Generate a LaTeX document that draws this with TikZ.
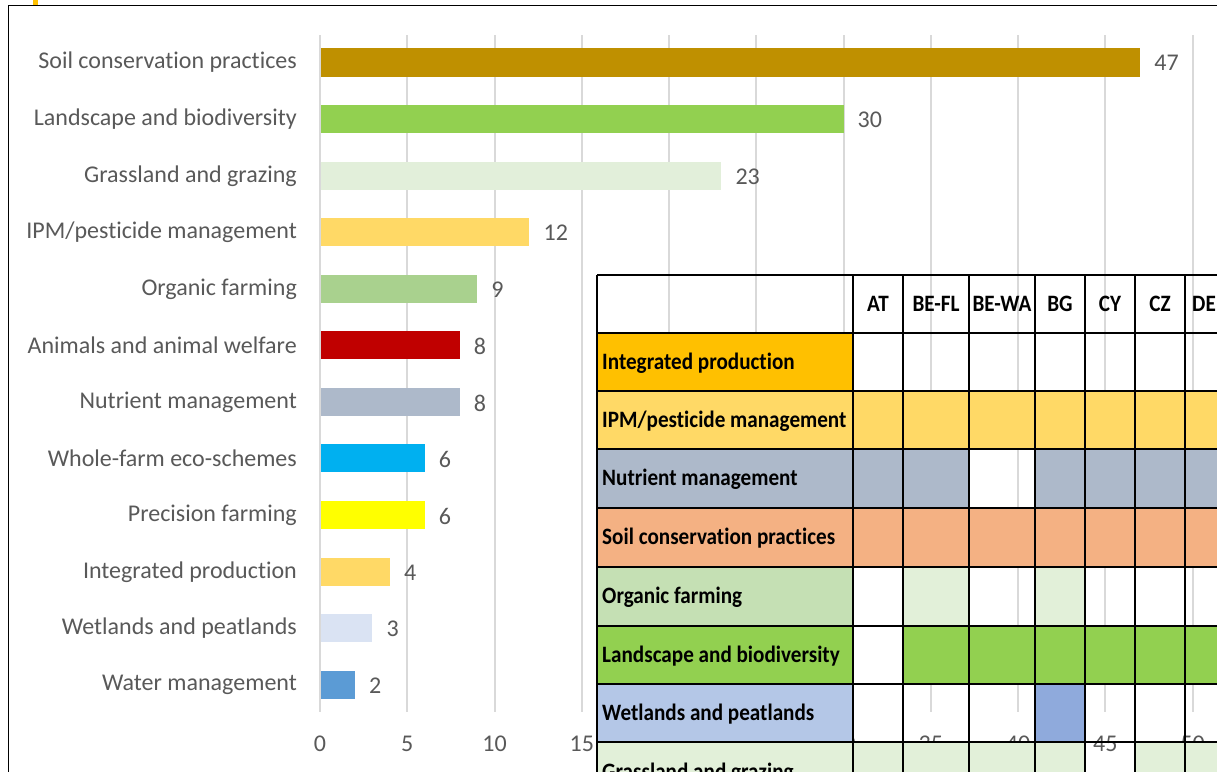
\documentclass[tikz,border=0pt]{standalone}
\usepackage{fontspec}
\setmainfont{Carlito}[Ligatures=NoCommon]
\newfontfamily\tabfont{Carlito}[Ligatures=NoCommon,FakeStretch=0.9]
\definecolor{axisgray}{HTML}{595959}
\definecolor{gridc}{HTML}{D9D9D9}
\definecolor{c-soilbar}{HTML}{BF9000}
\definecolor{c-land}{HTML}{92D050}
\definecolor{c-grassbar}{HTML}{E2EFDA}
\definecolor{c-ipm}{HTML}{FFD966}
\definecolor{c-orgbar}{HTML}{A9D18E}
\definecolor{c-anim}{HTML}{C00000}
\definecolor{c-nut}{HTML}{ADB9CA}
\definecolor{c-whole}{HTML}{00B0F0}
\definecolor{c-prec}{HTML}{FFFF00}
\definecolor{c-wetbar}{HTML}{DAE3F3}
\definecolor{c-water}{HTML}{5B9BD5}
\definecolor{c-ip}{HTML}{FFC000}
\definecolor{c-soil}{HTML}{F4B183}
\definecolor{c-org}{HTML}{C5E0B4}
\definecolor{c-lg}{HTML}{E2F0D9}
\definecolor{c-wet}{HTML}{B4C7E7}
\definecolor{c-wetbg}{HTML}{8FAADC}
\def\colxs{{597,853,903,969,1035,1085,1135,1185,1262}}
\def\rowys{{275,333,391,449,508,567,626,684,742,801}}
\newcommand\mycell[3]{%
  \pgfmathsetmacro\xa{\colxs[#1]}\pgfmathsetmacro\xb{\colxs[#1+1]}%
  \pgfmathsetmacro\ya{\rowys[#2]}\pgfmathsetmacro\yb{\rowys[#2+1]}%
  \fill[#3] (\xa,\ya) rectangle (\xb,\yb);}
\begin{document}
\begin{tikzpicture}[x=1pt,y=-1pt,
  catlbl/.style={anchor=east, inner sep=0pt, text=axisgray, font=\fontsize{24}{28}\selectfont},
  vallbl/.style={anchor=west, inner sep=0pt, text=axisgray, font=\fontsize{24}{28}\selectfont},
  ticklbl/.style={anchor=center, inner sep=0pt, text=axisgray, font=\fontsize{24}{28}\selectfont},
  gridl/.style={draw=gridc, line width=2pt},
  tlbl/.style={anchor=west, inner sep=0pt, font=\tabfont\bfseries\fontsize{23.5}{27}\selectfont},
  thead/.style={anchor=center, inner sep=0pt, font=\tabfont\bfseries\fontsize{23.5}{27}\selectfont},
  tline/.style={draw=black, line width=2.2pt}
]
\useasboundingbox (0,0) rectangle (1217,771);
\clip (0,0) rectangle (1217,771);
\fill[white] (0,0) rectangle (1217,771);
% frame
\fill[c-ip] (33,0) rectangle (38,4.5);
\draw[line width=1.5pt] (1230,5.5) -- (8.5,5.5) -- (8.5,790);
% grid
\foreach \k in {0,...,10} {
  \draw[gridl] (320+\k*87.25,35) -- (320+\k*87.25,712);
  \pgfmathtruncatemacro\lab{\k*5}
  \node[ticklbl] (tick\k) at (320+\k*87.25,744) {\lab};
}
% bars
\def\sc{17.45}
\fill[c-soilbar]  (321,48)  rectangle (320+47*\sc,77);
\fill[c-land]     (321,105) rectangle (320+30*\sc,133);
\fill[c-grassbar] (321,162) rectangle (320+23*\sc,190);
\fill[c-ipm]      (321,218) rectangle (320+12*\sc,246);
\fill[c-orgbar]   (321,275) rectangle (320+9*\sc,303);
\fill[c-anim]     (321,331) rectangle (320+8*\sc,359);
\fill[c-nut]      (321,388) rectangle (320+8*\sc,416);
\fill[c-whole]    (321,444) rectangle (320+6*\sc,472);
\fill[c-prec]     (321,501) rectangle (320+6*\sc,529);
\fill[c-ipm]      (321,558) rectangle (320+4*\sc,586);
\fill[c-wetbar]   (321,614) rectangle (320+3*\sc,642);
\fill[c-water]    (321,671) rectangle (320+2*\sc,699);
% category labels
\node[catlbl] (l1)  at (297,62)  {Soil conservation practices};
\node[catlbl] (l2)  at (297,119) {Landscape and biodiversity};
\node[catlbl] (l3)  at (297,176) {Grassland and grazing};
\node[catlbl] (l4)  at (297,232) {IPM/pesticide management};
\node[catlbl] (l5)  at (297,289) {Organic farming};
\node[catlbl] (l6)  at (297,345) {Animals and animal welfare};
\node[catlbl] (l7)  at (297,402) {Nutrient management};
\node[catlbl] (l8)  at (297,458) {Whole-farm eco-schemes};
\node[catlbl] (l9)  at (297,515) {Precision farming};
\node[catlbl] (l10) at (297,572) {Integrated production};
\node[catlbl] (l11) at (297,628) {Wetlands and peatlands};
\node[catlbl] (l12) at (297,685) {Water management};
% value labels
\node[vallbl] (v1)  at (320+47*\sc+14,63)  {47};
\node[vallbl] (v2)  at (320+30*\sc+14,120) {30};
\node[vallbl] (v3)  at (320+23*\sc+14,177) {23};
\node[vallbl] (v4)  at (320+12*\sc+14,233) {12};
\node[vallbl] (v5)  at (320+9*\sc+14,290)  {9};
\node[vallbl] (v6)  at (320+8*\sc+14,346)  {8};
\node[vallbl] (v7)  at (320+8*\sc+14,403)  {8};
\node[vallbl] (v8)  at (320+6*\sc+14,459)  {6};
\node[vallbl] (v9)  at (320+6*\sc+14,516)  {6};
\node[vallbl] (v10) at (320+4*\sc+14,573)  {4};
\node[vallbl] (v11) at (320+3*\sc+14,629)  {3};
\node[vallbl] (v12) at (320+2*\sc+14,686)  {2};
% table fills
\mycell{0}{1}{c-ip}
\foreach \c in {0,...,7} {\mycell{\c}{2}{c-ipm}}
\foreach \c in {0,1,2,4,5,6,7} {\mycell{\c}{3}{c-nut}}
\foreach \c in {0,...,7} {\mycell{\c}{4}{c-soil}}
\mycell{0}{5}{c-org}
\mycell{2}{5}{c-lg}
\mycell{4}{5}{c-lg}
\foreach \c in {0,2,3,4,5,6,7} {\mycell{\c}{6}{c-land}}
\mycell{0}{7}{c-wet}
\mycell{4}{7}{c-wetbg}
\foreach \c in {0,1,2,3,4,6,7} {\mycell{\c}{8}{c-lg}}
% table lines
\foreach \r in {0,...,9} {
  \pgfmathsetmacro\yy{\rowys[\r]}
  \draw[tline] (597,\yy) -- (1262,\yy);
}
\foreach \c in {0,...,7} {
  \pgfmathsetmacro\xx{\colxs[\c]}
  \draw[tline] (\xx,275) -- (\xx,801);
}
% header texts
\node[thead] (hAT) at (878,304) {AT};
\node[thead] (hBEFL) at (936,304) {BE-FL};
\node[thead] (hBEWA) at (1002,304) {BE-WA};
\node[thead] (hBG) at (1060,304) {BG};
\node[thead] (hCY) at (1110,304) {CY};
\node[thead] (hCZ) at (1160,304) {CZ};
\node[thead] (hDE) at (1206,304) [anchor=west, xshift=-14pt] {DE};
% row labels
\node[tlbl] (r1) at (602,363) {Integrated production};
\node[tlbl] (r2) at (602,421) {IPM/pesticide management};
\node[tlbl] (r3) at (602,479) {Nutrient management};
\node[tlbl] (r4) at (602,538) {Soil conservation practices};
\node[tlbl] (r5) at (602,597) {Organic farming};
\node[tlbl] (r6) at (602,656) {Landscape and biodiversity};
\node[tlbl] (r7) at (602,714) {Wetlands and peatlands};
\node[tlbl] (r8) at (602,773) {Grassland and grazing};
\end{tikzpicture}
\end{document}
